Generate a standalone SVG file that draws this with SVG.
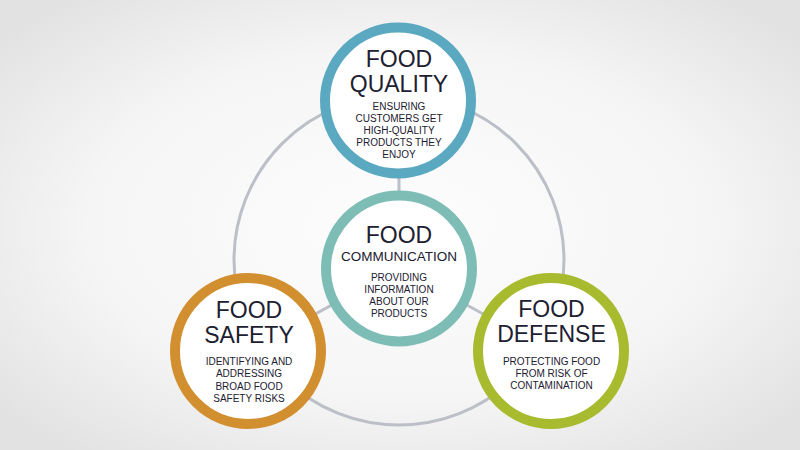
<svg xmlns="http://www.w3.org/2000/svg" width="800" height="450" viewBox="0 0 800 450">
<defs>
<radialGradient id="bg" cx="50%" cy="50%" r="65%">
<stop offset="0" stop-color="#fdfdfd"/>
<stop offset="0.6" stop-color="#f5f5f5"/>
<stop offset="1" stop-color="#e2e2e2"/>
</radialGradient>
<style>
.ring{fill:#ffffff;stroke-width:10}
.t{font-family:"Liberation Sans",Arial,sans-serif;fill:#1c2030;text-anchor:middle}
.h{font-size:23px}
.hs{font-size:13.5px}
.s{font-size:10px}
.c{fill:none;stroke:#bcbfc8;stroke-width:3}
</style>
</defs>
<rect width="800" height="450" fill="url(#bg)"/>
<g id="connectors">
<circle class="c" cx="399" cy="260" r="165"/>
<line class="c" x1="399" y1="268" x2="399" y2="100"/>
<line class="c" x1="399" y1="268" x2="248" y2="351"/>
<line class="c" x1="399" y1="268" x2="551" y2="351"/>
</g>
<g id="food-quality">
<circle class="ring" cx="398" cy="100.5" r="73" stroke="#5ba8c1"/>
<text class="t h" x="399" y="66.7">FOOD</text>
<text class="t h" x="399" y="91.7">QUALITY</text>
<text class="t s" x="399" y="110">ENSURING</text>
<text class="t s" x="399" y="122">CUSTOMERS GET</text>
<text class="t s" x="399" y="134">HIGH-QUALITY</text>
<text class="t s" x="399" y="146.3">PRODUCTS THEY</text>
<text class="t s" x="399" y="158.3">ENJOY</text>
</g>
<g id="food-communication">
<circle class="ring" cx="399" cy="268.5" r="73" stroke="#7dbdb5"/>
<text class="t h" x="399" y="243.3">FOOD</text>
<text class="t hs" x="399" y="260.7">COMMUNICATION</text>
<text class="t s" x="399" y="280.7">PROVIDING</text>
<text class="t s" x="399" y="292.8">INFORMATION</text>
<text class="t s" x="399" y="305">ABOUT OUR</text>
<text class="t s" x="399" y="317.3">PRODUCTS</text>
</g>
<g id="food-safety">
<circle class="ring" cx="248" cy="351" r="73" stroke="#d28f2f"/>
<text class="t h" x="249" y="317.5">FOOD</text>
<text class="t h" x="249" y="343.3">SAFETY</text>
<text class="t s" x="249" y="364.5">IDENTIFYING AND</text>
<text class="t s" x="249" y="377">ADDRESSING</text>
<text class="t s" x="249" y="389.5">BROAD FOOD</text>
<text class="t s" x="249" y="401.7">SAFETY RISKS</text>
</g>
<g id="food-defense">
<circle class="ring" cx="551" cy="351" r="73" stroke="#a8ba2d"/>
<text class="t h" x="551.5" y="317">FOOD</text>
<text class="t h" x="551.5" y="342">DEFENSE</text>
<text class="t s" x="551.5" y="365">PROTECTING FOOD</text>
<text class="t s" x="551.5" y="377.2">FROM RISK OF</text>
<text class="t s" x="551.5" y="389.4">CONTAMINATION</text>
</g>
</svg>
